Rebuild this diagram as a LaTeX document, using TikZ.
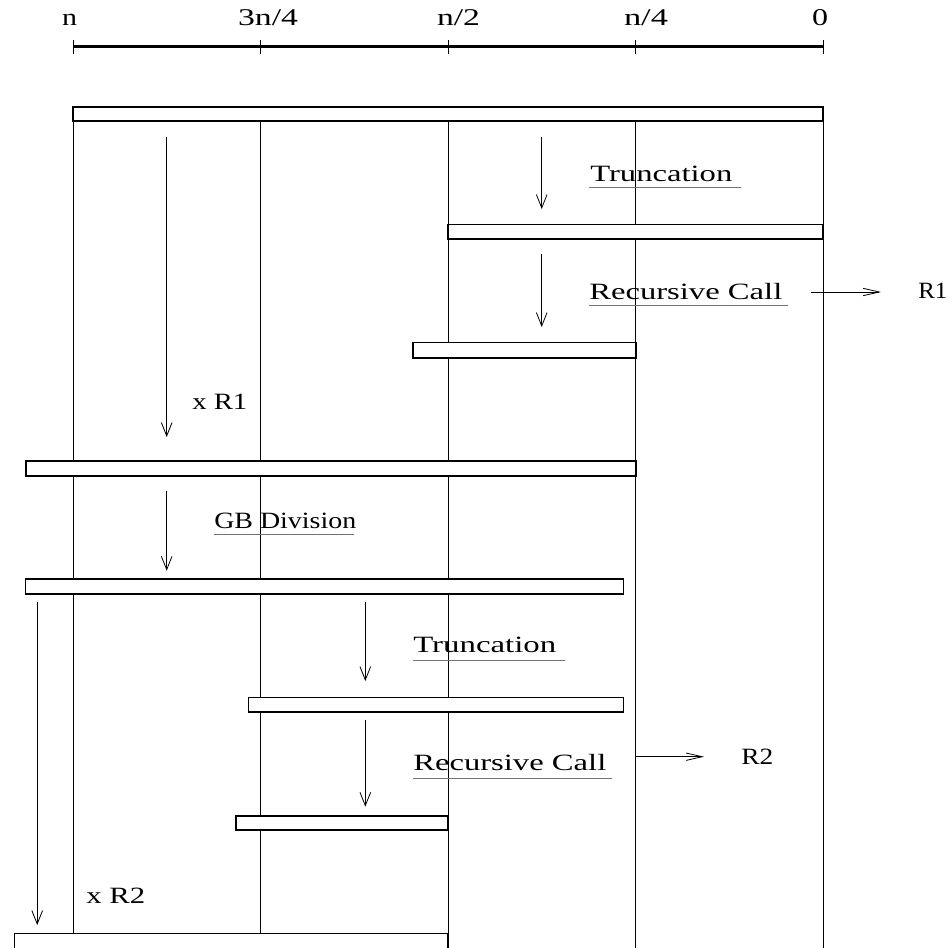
\documentclass[tikz,border=0pt]{standalone}
\usepackage{fontspec}
\setmainfont{Liberation Serif}
\usepackage{graphicx}
\usepackage{tikz}
\usetikzlibrary{arrows.meta}
\newlength{\pxu}
\setlength{\pxu}{0.75pt}
\newcommand{\ancho}[2]{\resizebox{#1\pxu}{\height}{#2}}
\tikzset{
	guia/.style={
		line width=0.6pt,
		black
	},
	eje/.style={
		line width=2pt,
		black
	},
	barra/.style={
		draw=black,
		line width=1.2pt,
		fill=white
	},
	flecha/.style={
		-{Straight Barb[length=10pt, width=8pt]},
		line width=0.6pt
	},
	flechaLateral/.style={
		-{Straight Barb[length=12pt, width=5.5pt]},
		line width=0.6pt
	},
	etiqueta/.style={
		anchor=base west,
		inner sep=0pt,
		font=\fontsize{17.5}{20}\selectfont
	},
	marca/.style={
		anchor=base,
		inner sep=0pt,
		font=\fontsize{18}{21}\selectfont
	},
	subrayado/.style={
		line width=0.7pt,
		black!55
	}
}

\begin{document}
\begin{tikzpicture}[x=0.75pt, y=-0.75pt]
		\useasboundingbox (0,0) rectangle (952,947);
		% escala superior
		\draw[eje] (73,46.7) -- (823,46.7);
		\foreach \xx in {73,260.3,448,635.7,823}
			\draw[guia] (\xx,40) -- (\xx,54);
		\node[marca] (mn) at (69.5,25) {\ancho{15}{n}};
		\node[marca] (m3n4) at (268,25) {\ancho{60}{3n/4}};
		\node[marca] (mn2) at (458.5,25) {\ancho{43}{n/2}};
		\node[marca] (mn4) at (646,25) {\ancho{44}{n/4}};
		\node[marca] (mcero) at (820,25) {\ancho{16}{0}};
		% lineas verticales
		\draw[guia] (73,113) -- (73,933.3);
		\draw[guia] (260.3,113) -- (260.3,933.3);
		\draw[guia] (448,113) -- (448,950);
		\draw[guia] (635.7,113) -- (635.7,950);
		\draw[guia] (823,113) -- (823,950);
		% barras
		\draw[barra] (73,106.7) rectangle (823,120.7);
		\draw[barra] (448,224.5) rectangle (823,239);
		\draw[barra] (413,342.5) rectangle (635.7,357.7);
		\draw[barra] (25.7,461) rectangle (635.7,475.7);
		\draw[barra] (25.5,579) rectangle (623.5,593.7);
		\draw[barra] (248.5,697.3) rectangle (623.5,712);
		\draw[barra] (236,815.7) rectangle (448,830);
		\draw[barra] (14.3,933.3) rectangle (448,952);
		% flechas
		\draw[flecha] (541.7,137) -- (541.7,209);
		\draw[flecha] (541.7,254) -- (541.7,327);
		\draw[flecha] (166.7,137) -- (166.7,437);
		\draw[flecha] (166.7,490.7) -- (166.7,570.7);
		\draw[flecha] (365.3,601.7) -- (365.3,681);
		\draw[flecha] (365.3,720) -- (365.3,806.7);
		\draw[flecha] (37.2,601.7) -- (37.2,925);
		\draw[flechaLateral] (811,292) -- (881,292);
		\draw[flechaLateral] (635.7,756.7) -- (704,756.7);
		% textos
		\node[etiqueta] (trunc1) at (590,181) {\ancho{142}{Truncation}};
		\draw[subrayado] (589,187.3) -- (741,187.3);
		\node[etiqueta] (rec1) at (589,299.5) {\ancho{193}{Recursive Call}};
		\draw[subrayado] (589,305.7) -- (788,305.7);
		\node[etiqueta] (r1) at (918,298) {\ancho{29}{R1}};
		\node[etiqueta] (xr1) at (192,409) {\ancho{55}{x R1}};
		\node[etiqueta] (gbdiv) at (214,528) {\ancho{142}{GB Division}};
		\draw[subrayado] (214,534.3) -- (354.3,534.3);
		\node[etiqueta] (trunc2) at (413,652.7) {\ancho{143}{Truncation}};
		\draw[subrayado] (413,660) -- (565,660);
		\node[etiqueta] (rec2) at (413,770.7) {\ancho{193}{Recursive Call}};
		\draw[subrayado] (413,778.3) -- (612,778.3);
		\node[etiqueta] (r2) at (741,764) {\ancho{32}{R2}};
		\node[etiqueta] (xr2) at (86,903) {\ancho{59}{x R2}};
	\end{tikzpicture}
\end{document}
